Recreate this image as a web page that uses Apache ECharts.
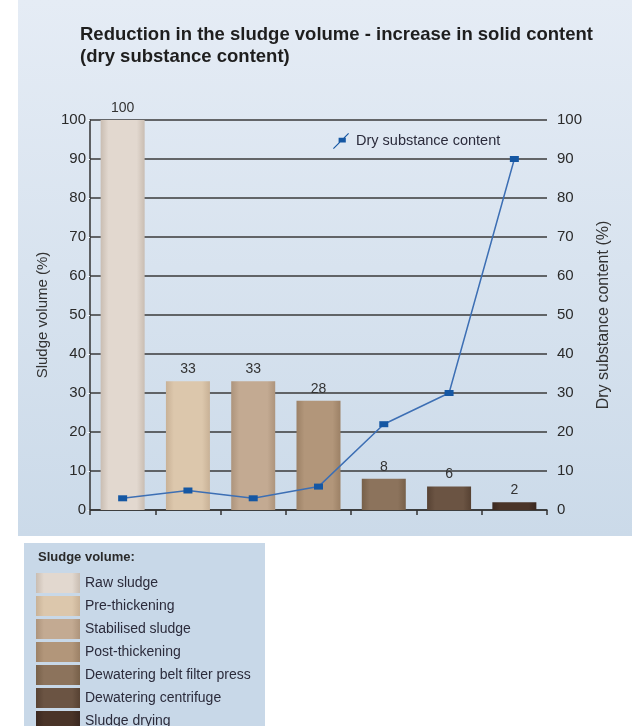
<!DOCTYPE html>
<html>
<head>
<meta charset="utf-8">
<script src="https://cdn.jsdelivr.net/npm/echarts@6/dist/echarts.min.js"></script>
<style>
  html, body { margin: 0; padding: 0; background: #fff; }
  #chart { width: 632px; height: 726px; }
</style>
</head>
<body>
<div id="chart"></div>
<script>
  const stages = ['Raw sludge', 'Pre-thickening', 'Stabilised sludge', 'Post-thickening',
    'Dewatering belt filter press', 'Dewatering centrifuge', 'Sludge drying'];
  const sludgeVolume = [100, 33, 33, 28, 8, 6, 2];
  const dryContent = [3, 5, 3, 6, 22, 30, 90];
  const axisTicks = [0, 10, 20, 30, 40, 50, 60, 70, 80, 90, 100];
  const stageColors = ['#e2d8cf', '#dcc7ac', '#c3aa92', '#b2967a', '#8c735c', '#6b5443', '#4a3428'];
  const edgeColors = ['#c9bdb2', '#c8b196', '#ad947c', '#9c8166', '#776049', '#574233', '#3a2820'];

  const chart = echarts.init(document.getElementById('chart'));
  const font = 'Liberation Sans, Arial, sans-serif';

  // one series per stage so the bottom legend can list them
  const barSeries = stages.map((name, i) => ({
    name: name,
    type: 'bar',
    stack: 'vol',
    barWidth: 44,
    data: sludgeVolume.map((v, j) => (j === i ? v : '-')),
    itemStyle: {
      color: new echarts.graphic.LinearGradient(0, 0, 1, 0, [
        { offset: 0, color: edgeColors[i] },
        { offset: 0.18, color: stageColors[i] },
        { offset: 0.82, color: stageColors[i] },
        { offset: 1, color: edgeColors[i] }
      ])
    },
    label: {
      show: true,
      position: 'top',
      distance: 5,
      color: '#333',
      fontSize: 14,
      fontFamily: font
    }
  }));

  chart.setOption({
    animation: false,
    textStyle: { fontFamily: font },
    title: {
      text: 'Reduction in the sludge volume - increase in solid content\n(dry substance content)',
      left: 75,
      top: 19,
      textStyle: { fontSize: 18.5, fontWeight: 'bold', color: '#1e1e1e', lineHeight: 22 }
    },
    graphic: [
      {
        type: 'rect', z: -10, silent: true,
        shape: { x: 18, y: 0, width: 614, height: 536 },
        style: {
          fill: new echarts.graphic.LinearGradient(0, 0, 0, 1, [
            { offset: 0, color: '#e5ecf5' },
            { offset: 1, color: '#cbdae9' }
          ])
        }
      },
      {
        type: 'rect', z: -10, silent: true,
        shape: { x: 24, y: 543, width: 241, height: 183 },
        style: { fill: '#c8d8e8' }
      },
      {
        type: 'text', z: 5,
        left: 38, top: 551,
        style: { text: 'Sludge volume:', fontSize: 13, fontWeight: 'bold', fill: '#2a2a2a', fontFamily: font }
      }
    ],
    legend: [
      {
        data: ['Dry substance content'],
        left: 328,
        top: 128,
        itemWidth: 20,
        itemHeight: 16,
        itemGap: 5,
        icon: 'path://M0,19 L19,0 L20,1 L1,20 Z M7,6 L16,6 L16,12 L7,12 Z',
        textStyle: { fontSize: 14.5, color: '#2b2b3b' }
      },
      {
        data: stages,
        orient: 'vertical',
        left: 36,
        top: 573,
        height: 200,
        padding: 0,
        itemWidth: 44,
        itemHeight: 20,
        itemGap: 3,
        icon: 'rect',
        textStyle: { fontSize: 14, color: '#2b2b3b' }
      }
    ],
    grid: { left: 90, right: 85, top: 120, bottom: 216 },
    xAxis: {
      type: 'category',
      data: stages,
      axisLine: { lineStyle: { color: '#333', width: 1.5 } },
      axisTick: { show: true, interval: 0, length: 5, lineStyle: { color: '#333', width: 1.5 } },
      axisLabel: { show: false }
    },
    yAxis: [
      {
        type: 'value',
        min: axisTicks[0],
        max: axisTicks[axisTicks.length - 1],
        interval: 10,
        name: 'Sludge volume (%)',
        nameLocation: 'middle',
        nameRotate: 90,
        nameGap: 39,
        nameTextStyle: { fontSize: 15, color: '#333' },
        axisLine: { show: true, lineStyle: { color: '#333', width: 1.5 } },
        axisTick: { show: true, length: 3, lineStyle: { color: '#eef2f7' } },
        axisLabel: { fontSize: 15, color: '#2a2a2a', margin: 4 },
        splitLine: { lineStyle: { color: '#3a3a3a', width: 1.5 } }
      },
      {
        type: 'value',
        min: axisTicks[0],
        max: axisTicks[axisTicks.length - 1],
        interval: 10,
        name: 'Dry substance content (%)',
        nameLocation: 'middle',
        nameRotate: 90,
        nameGap: 49,
        nameTextStyle: { fontSize: 16, color: '#333' },
        axisLine: { show: false },
        axisTick: { show: false },
        axisLabel: { fontSize: 15, color: '#2a2a2a', margin: 10 },
        splitLine: { show: false }
      }
    ],
    series: barSeries.concat([{
      name: 'Dry substance content',
      type: 'line',
      yAxisIndex: 1,
      z: 10,
      data: dryContent,
      symbol: 'rect',
      symbolSize: [9, 6],
      itemStyle: { color: '#1557a3' },
      lineStyle: { color: '#3d6fb4', width: 1.5 }
    }])
  });
</script>
</body>
</html>
